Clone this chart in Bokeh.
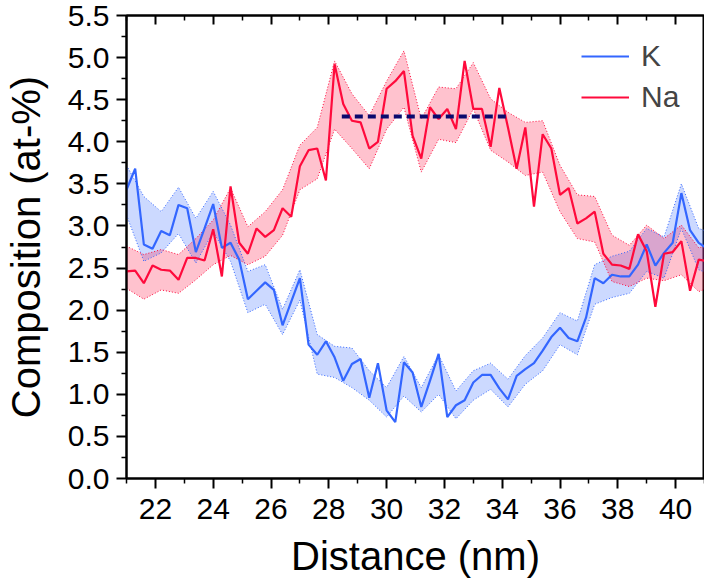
from bokeh.plotting import figure
from bokeh.models import LinearAxis, FixedTicker, Range1d, Legend, LegendItem, CustomJSTickFormatter
from bokeh.embed import file_html
from bokeh.resources import INLINE

# ---- data ----
distance = [21.0, 21.3, 21.6, 21.9, 22.2, 22.5, 22.8, 23.1, 23.4, 23.7,
            24.0, 24.3, 24.6, 24.9, 25.2, 25.5, 25.8, 26.1, 26.4, 26.7,
            27.0, 27.3, 27.6, 27.9, 28.2, 28.5, 28.8, 29.1, 29.4, 29.7,
            30.0, 30.3, 30.6, 30.9, 31.2, 31.5, 31.8, 32.1, 32.4, 32.7,
            33.0, 33.3, 33.6, 33.9, 34.2, 34.5, 34.8, 35.1, 35.4, 35.7,
            36.0, 36.3, 36.6, 36.9, 37.2, 37.5, 37.8, 38.1, 38.4, 38.7,
            39.0, 39.3, 39.6, 39.9, 40.2, 40.5, 40.8, 41.1]

k_comp = [3.43, 3.68, 2.78, 2.73, 2.94, 2.89, 3.25, 3.21, 2.69, 2.97,
          3.26, 2.74, 2.80, 2.60, 2.13, 2.23, 2.33, 2.24, 1.82, 2.10,
          2.38, 1.59, 1.47, 1.63, 1.44, 1.16, 1.36, 1.42, 0.96, 1.37,
          0.81, 0.67, 1.38, 1.26, 0.85, 1.16, 1.48, 0.73, 0.87, 0.93,
          1.14, 1.23, 1.23, 1.07, 0.94, 1.22, 1.30, 1.37, 1.52, 1.68,
          1.79, 1.67, 1.63, 1.91, 2.38, 2.32, 2.42, 2.40, 2.40, 2.54,
          2.78, 2.53, 2.68, 2.80, 3.39, 2.95, 2.80, 2.73]

na_comp = [2.46, 2.47, 2.32, 2.53, 2.48, 2.47, 2.36, 2.62, 2.62, 2.59,
           2.96, 2.40, 3.47, 2.80, 2.67, 2.97, 2.87, 2.95, 3.21, 3.11,
           3.71, 3.90, 3.92, 3.54, 4.92, 4.45, 4.25, 4.23, 3.92, 4.00,
           4.63, 4.72, 4.84, 4.07, 3.80, 4.41, 4.27, 4.39, 4.15, 4.96,
           4.39, 4.39, 3.94, 4.64, 4.17, 3.68, 4.17, 3.23, 4.09, 3.92,
           3.37, 3.45, 3.03, 3.09, 3.17, 2.67, 2.54, 2.53, 2.49, 2.90,
           2.70, 2.04, 2.67, 2.69, 2.82, 2.23, 2.60, 2.58]

band_x = [21.0, 21.6, 22.2, 22.8, 23.4, 24.0, 24.6, 25.2, 25.8, 26.4,
          27.0, 27.6, 28.2, 28.8, 29.4, 30.0, 30.6, 31.2, 31.8, 32.4,
          33.0, 33.6, 34.2, 34.8, 35.4, 36.0, 36.6, 37.2, 37.8, 38.4,
          39.0, 39.6, 40.2, 40.8, 41.4]

k_upper = [3.72, 3.35, 3.17, 3.46, 3.09, 3.41, 3.01, 2.46, 2.54, 2.01,
           2.48, 1.71, 1.57, 1.55, 1.28, 1.08, 1.45, 1.08, 1.47, 1.04,
           1.28, 1.37, 1.18, 1.46, 1.67, 1.97, 1.87, 2.54, 2.64, 2.70,
           2.97, 2.87, 3.50, 2.97, 2.90]
k_lower = [3.13, 2.58, 2.68, 2.91, 2.56, 2.93, 2.58, 1.97, 2.07, 1.71,
           2.12, 1.24, 1.20, 1.08, 0.93, 0.73, 0.98, 0.79, 1.00, 0.71,
           0.93, 1.06, 0.85, 1.12, 1.28, 1.59, 1.47, 2.07, 2.15, 2.20,
           2.46, 2.38, 2.97, 2.48, 2.40]

na_upper = [2.76, 2.66, 2.72, 2.66, 2.85, 3.07, 3.45, 2.99, 3.17, 3.43,
            3.96, 4.17, 4.96, 4.57, 4.31, 4.72, 5.08, 4.27, 4.65, 4.63,
            4.94, 4.51, 4.35, 4.23, 4.25, 3.72, 3.37, 3.35, 2.89, 2.77,
            3.01, 2.85, 3.01, 2.74, 2.80]
na_lower = [2.26, 2.13, 2.24, 2.20, 2.36, 2.54, 2.65, 2.54, 2.64, 2.89,
            3.43, 3.56, 4.15, 3.92, 3.68, 4.15, 4.41, 3.64, 4.03, 3.99,
            4.39, 3.90, 3.76, 3.60, 3.64, 3.17, 2.85, 2.81, 2.34, 2.28,
            2.38, 2.35, 2.42, 2.22, 2.30]

plateau_x = [28.45, 34.2]
plateau_y = [4.3, 4.3]

x_ticks = [22, 24, 26, 28, 30, 32, 34, 36, 38, 40]
x_minor = [21, 23, 25, 27, 29, 31, 33, 35, 37, 39, 41]
y_ticks = [0.0, 0.5, 1.0, 1.5, 2.0, 2.5, 3.0, 3.5, 4.0, 4.5, 5.0, 5.5]
y_minor = [0.25, 0.75, 1.25, 1.75, 2.25, 2.75, 3.25, 3.75, 4.25, 4.75, 5.25]

K_COLOR = "#3366FF"
NA_COLOR = "#FF0A3C"
FONT = "Liberation Sans"

p = figure(width=704, height=580, x_range=Range1d(21, 41), y_range=Range1d(0, 5.5),
           output_backend="svg", toolbar_location=None,
           min_border_left=126, min_border_right=0, min_border_top=15, min_border_bottom=99)
p.xgrid.visible = False
p.ygrid.visible = False
p.outline_line_color = "black"
p.outline_line_width = 2
p.outline_line_alpha = 1
p.background_fill_color = "white"

for ax in (p.xaxis[0], p.yaxis[0]):
    ax.axis_line_width = 2
    ax.major_tick_line_width = 2
    ax.minor_tick_line_width = 1.5
    ax.major_tick_in = 0
    ax.major_tick_out = 10
    ax.minor_tick_in = 0
    ax.minor_tick_out = 5
    ax.major_label_text_font = FONT
    ax.major_label_text_font_size = "30px"
    ax.major_label_text_color = "black"
    ax.axis_label_text_font = FONT
    ax.axis_label_text_font_size = "40px"
    ax.axis_label_text_font_style = "normal"
    ax.axis_label_text_color = "black"

p.xaxis[0].ticker = FixedTicker(ticks=x_ticks, minor_ticks=x_minor)
p.yaxis[0].ticker = FixedTicker(ticks=y_ticks, minor_ticks=y_minor)
p.xaxis[0].axis_label = "Distance (nm)"
p.yaxis[0].axis_label = "Composition (at-%)"
p.xaxis[0].major_label_standoff = 10
p.yaxis[0].major_label_standoff = 7
p.xaxis[0].axis_label_standoff = 12
p.yaxis[0].axis_label_standoff = 17
p.yaxis[0].formatter = CustomJSTickFormatter(code="return tick.toFixed(1);")

top_axis = LinearAxis(ticker=FixedTicker(ticks=x_ticks, minor_ticks=x_minor),
                      major_label_overrides={t: "" for t in x_ticks},
                      major_label_text_font_size="1px", axis_line_width=2,
                      major_tick_in=9, major_tick_out=0, minor_tick_in=5, minor_tick_out=0,
                      major_tick_line_width=2, minor_tick_line_width=1.5,
                      major_label_standoff=0)
p.add_layout(top_axis, "above")

# bands
p.varea(x=band_x, y1=k_lower, y2=k_upper, fill_color=K_COLOR, fill_alpha=0.25)
p.varea(x=band_x, y1=na_lower, y2=na_upper, fill_color=NA_COLOR, fill_alpha=0.25)
for yy, col in ((k_upper, K_COLOR), (k_lower, K_COLOR), (na_upper, NA_COLOR), (na_lower, NA_COLOR)):
    p.line(band_x, yy, line_color=col, line_width=1, line_dash="1 2")

k_line = p.line(distance, k_comp, line_color=K_COLOR, line_width=2.2)
na_line = p.line(distance, na_comp, line_color=NA_COLOR, line_width=2.2)

p.line(plateau_x, plateau_y, line_color="#0A0A6E", line_width=4, line_dash="8 5")

legend = Legend(items=[LegendItem(label="K", renderers=[k_line]),
                       LegendItem(label="Na", renderers=[na_line])],
                location=(455, 363), border_line_color=None, background_fill_alpha=0,
                label_text_font=FONT, label_text_font_size="30px", glyph_width=48,
                glyph_height=36, label_height=36, label_standoff=12, spacing=5,
                padding=12, margin=0)
p.add_layout(legend)

open("out.html", "w").write(file_html(p, INLINE))
